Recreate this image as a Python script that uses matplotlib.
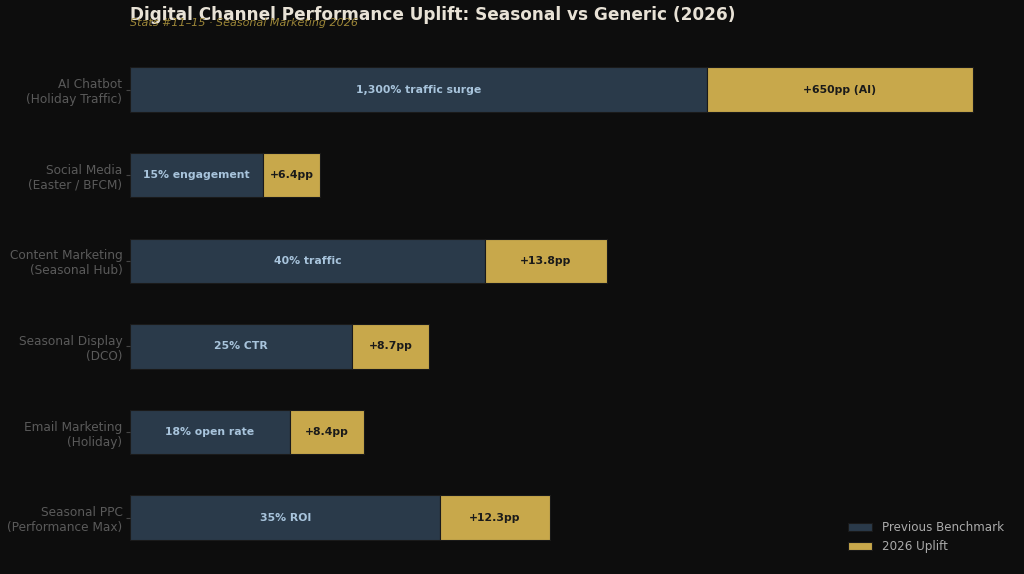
import matplotlib
matplotlib.use('Agg')
import matplotlib.pyplot as plt

# channels, top to bottom
channels = ['AI Chatbot\n(Holiday Traffic)', 'Social Media\n(Easter / BFCM)',
            'Content Marketing\n(Seasonal Hub)', 'Seasonal Display\n(DCO)',
            'Email Marketing\n(Holiday)', 'Seasonal PPC\n(Performance Max)']
base = [65, 15, 40, 25, 18, 35]
uplift = [30, 6.4, 13.8, 8.7, 8.4, 12.3]
base_labels = ['1,300% traffic surge', '15% engagement', '40% traffic',
               '25% CTR', '18% open rate', '35% ROI']
uplift_labels = ['+650pp (AI)', '+6.4pp', '+13.8pp', '+8.7pp', '+8.4pp', '+12.3pp']

bg = '#0d0d0d'
c_base = '#2a3a4a'
c_up = '#c8a84b'

fig = plt.figure(figsize=(10.24, 5.74), dpi=100, facecolor=bg)
ax = fig.add_axes([0.127, 0.018, 0.864, 0.906])
ax.set_facecolor(bg)

y = list(range(len(channels)))
ax.barh(y, base, height=0.52, color=c_base, edgecolor='#1a1a1a', linewidth=0.8,
        label='Previous Benchmark')
ax.barh(y, uplift, left=base, height=0.52, color=c_up, edgecolor='#1a1a1a',
        linewidth=0.8, label='2026 Uplift')

for i in y:
    ax.text(base[i] / 2, i, base_labels[i], ha='center', va='center',
            fontsize=7.8, fontweight='bold', color='#a8c4dc')
    ax.text(base[i] + uplift[i] / 2, i, uplift_labels[i], ha='center', va='center',
            fontsize=7.8, fontweight='bold', color='#1a1a1a')

ax.set_yticks(y)
ax.set_yticklabels(channels, fontsize=8.7, color='#5a5a5a')
ax.tick_params(axis='y', colors='#444444', labelcolor='#5a5a5a', length=3, pad=2.5)
ax.invert_yaxis()
ax.set_xlim(0, 99.75)
ax.set_xticks([])
for s in ax.spines.values():
    s.set_visible(False)

leg = ax.legend(loc='lower right', frameon=False, fontsize=8.6, handlelength=2,
                bbox_to_anchor=(1.0, 0.0))
for t in leg.get_texts():
    t.set_color('#aaaaaa')

fig.text(0.127, 0.958, 'Digital Channel Performance Uplift: Seasonal vs Generic (2026)',
         fontsize=12.2, fontweight='bold', color='#e8e2d6', va='bottom')
fig.text(0.127, 0.952, 'Stats #11\u201315 \u00b7 Seasonal Marketing 2026',
         fontsize=8, style='italic', color='#9c8638', va='bottom')

plt.savefig('out.png', dpi=100, facecolor=bg)
